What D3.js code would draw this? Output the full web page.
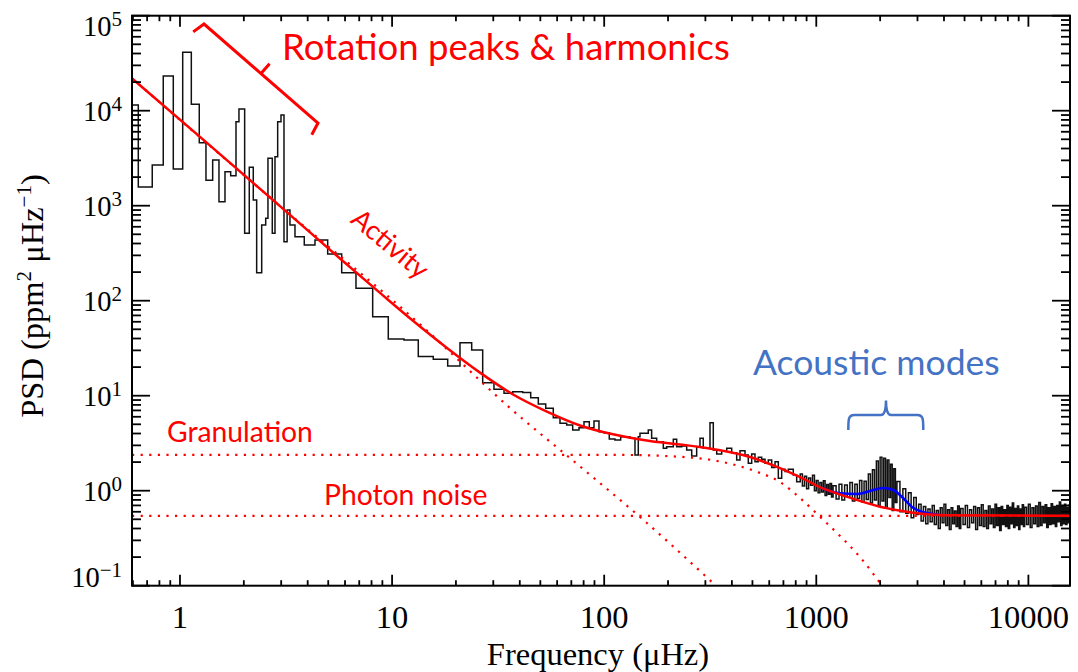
<!DOCTYPE html>
<html><head><meta charset="utf-8">
<script src="https://cdn.jsdelivr.net/npm/d3@7"></script>
<style>html,body{margin:0;padding:0;background:#fff}</style>
</head><body>
<svg id="c" width="1078" height="672"></svg>
<script>
// ---------- DATA ----------
// Rebinned power spectrum: left edge of each bin (µHz) and PSD (ppm²/µHz)
const binFreq = [0.594,0.636,0.740,0.834,0.930,1.030,1.131,1.233,1.326,1.426,1.527,1.630,1.734,1.837,1.897,2.018,2.122,2.216,2.299,2.428,2.536,2.599,2.724,2.805,2.888,2.994,3.093,3.20,3.30,3.485,3.855,4.33,4.97,5.787,6.758,8.10,9.596,11.38,13.29,15.64,18.29,20.90,23.73,26.74,30.22,33.71,37.03,41.28,45.03,48.91,53.01,57.54,61.89,66.56,71.03,76.06,80.31,85.08,89.51,94.51,99.8,105.7,112.4,119.6,132.3,139.7,144.8,147.5,161.4,167.4,176.8,190.0,197.1,211.8,219.7,232.0,244.9,258.6,272.9,282.9,293.2,315.4,326.9,339.2,358.1,378.1,399.1,421.4,436.8,461.2,478.0,496.0,514.0,532.9,552.9,573.1,593.9,616.2,638.9,662.2,686.8,712.0,738.0,779.0,808.3,
840,860,880,900,920,940,960,980,1000,1020,1040,1060,1080,1100,1120,1140,1160,1180,1200,1240,1280,1320,1360,1400,1440,1480,1520,1560,1600,1640,1680,1720,1760,1800,1840,1880,1920,1960,2000,2040,2080,2120,2160,2200,2240,2280,2320,2360,2400,2480,2560,2640,2720,2800,2880,2960,3040,3120,3200,3280,3360,3440,3520,3600,3680,3760,3840,3920,4000,4080,4160,4240,4320,4400,4480,4560,4640,4720,
4800,4920,5040,5160,5280,5400,5520,5640,5760,5880,6000,6120,6240,6360,6480,6600,6720,6840,6960,7080,7200,7320,7440,7560,7680,7800,7920,8040,8160,8280,8400,8520,8640,8760,8880,9000,9120,9240,9360,9480,
9600,9800,10000,10200,10400,10600,10800,11000,11200,11400,11600,11800,12000,12200,12400,12600,12800,13000,13200,13400,13600,13800,14000,14200,14400,14600,14800,15000,15200,15400,15600];
const binPsd = [11480,1574,2680,23200,2432,41200,11670,4603,1850,3027,1102,2280,2070,7660,10420,512,2536,1148,197,626,737,3155,512,3280,7660,9010,418,901,626,472,386,436,310,197,135,67.9,39.5,38.6,25.9,24.2,20.5,36.1,30.3,13.7,11.7,10.6,11.0,10.8,9.52,8.18,7.37,5.87,5.12,4.92,4.35,4.60,5.33,4.60,5.42,4.18,4.08,3.50,3.42,3.70,3.56,2.38,3.70,4.02,4.35,3.56,3.28,2.80,2.90,3.48,2.90,2.96,2.68,2.32,2.90,3.56,2.80,5.20,2.68,2.43,2.64,2.80,2.51,2.10,2.64,2.38,1.94,2.43,2.02,2.25,2.14,1.94,2.10,1.76,2.02,1.35,1.68,1.59,1.68,1.46,1.24,
1.50,1.12,1.42,1.05,1.36,1.14,1.45,1.00,1.28,0.95,1.22,0.97,1.27,0.89,1.16,0.92,1.19,0.86,1.13,0.82,1.17,0.80,1.15,0.86,1.22,0.78,1.17,0.83,1.28,0.76,1.26,0.81,1.50,0.74,1.66,0.80,2.05,0.70,2.25,0.78,2.20,0.66,2.10,0.85,1.90,0.62,1.70,0.75,1.25,0.60,1.05,0.58,0.95,0.52,0.85,0.56,0.72,0.48,0.68,0.45,0.64,0.47,0.70,0.44,0.62,0.40,0.66,0.46,0.72,0.43,0.63,0.39,0.66,0.45,0.61,0.42,0.69,0.40,
0.65,0.44,0.70,0.41,0.63,0.46,0.68,0.39,0.66,0.43,0.71,0.42,0.62,0.40,0.69,0.45,0.64,0.41,0.72,0.43,0.66,0.38,0.68,0.44,0.63,0.42,0.70,0.40,0.67,0.45,0.74,0.41,0.65,0.43,0.69,0.39,0.64,0.44,0.71,0.42,
0.67,0.44,0.72,0.41,0.66,0.45,0.69,0.42,0.75,0.43,0.68,0.46,0.71,0.41,0.66,0.44,0.73,0.45,0.68,0.42,0.70,0.47,0.76,0.43,0.69,0.45,0.72,0.44,0.67,0.46,0.71];

// Total background fit (red solid)
const fitFreq = [0.594,1.243,2.961,5.68,8.77,12.55,18.15,25.97,37.2,53.7,76.9,110,164.4,283,487,674,838,1041,1390,1996,2857,4120,15710];
const fitPsd  = [21900,5300,990,278,121,61.5,31.8,17.5,10.3,6.8,4.86,3.92,3.33,2.88,2.26,1.73,1.39,1.09,0.865,0.679,0.587,0.552,0.545];

// Activity component (red dotted)
const activityFreq = [0.594,2.961,13.99,35.97,78.6,147.5,326.9];
const activityPsd  = [21900,993,52.9,7.42,1.73,0.529,0.106];

// Granulation component (red dotted)
const granFreq = [0.594,118.7,244.9,352,504.5,674,838,1041,1294,1607,2041];
const granPsd  = [2.38,2.38,2.25,2.03,1.63,1.235,0.838,0.532,0.334,0.200,0.1];

// Photon noise (red dotted)
const noiseFreq = [0.594,15710];
const noisePsd  = [0.542,0.542];

// Fit including the acoustic-mode hump (blue)
const modesFreq = [1041,1160,1294,1550,1857,2070,2307,2572,2817,3140,3435,3830];
const modesPsd  = [1.09,0.993,0.939,0.923,1.017,1.067,1.017,0.832,0.679,0.601,0.575,0.555];

// Axis ticks
const xMajor = [1,10,100,1000,10000];
const xLabels = ["1","10","100","1000","10000"];
const yExponents = [-1,0,1,2,3,4,5];

// ---------- CHART ----------
const W = 1078, H = 672;
const P = {l:132, r:1070, t:15.7, b:585.7};
const x = d3.scaleLog().domain([0.594,15710]).range([P.l,P.r]);
const y = d3.scaleLog().domain([0.1,1e5]).range([P.b,P.t]);

const svg = d3.select('#c');
svg.append('rect').attr('width',W).attr('height',H).attr('fill','#fff');
svg.append('defs').append('clipPath').attr('id','clip')
  .append('rect').attr('x',P.l).attr('y',P.t).attr('width',P.r-P.l).attr('height',P.b-P.t);
const g = svg.append('g').attr('clip-path','url(#clip)');

const zip = (fs,vs) => fs.map((f,i)=>[f,vs[i]]);
const stepLine = d3.line().x(d=>x(d[0])).y(d=>y(d[1])).curve(d3.curveStepAfter);
const smooth = d3.line().x(d=>x(d[0])).y(d=>y(d[1])).curve(d3.curveMonotoneX);
const straight = d3.line().x(d=>x(d[0])).y(d=>y(d[1]));

const hist = zip(binFreq,binPsd);
hist.push([x.domain()[1], binPsd[binPsd.length-1]]);
g.append('path').datum(hist).attr('d',stepLine)
  .attr('fill','none').attr('stroke','#111').attr('stroke-width',1.5);

const dotted = sel => sel.attr('fill','none').attr('stroke','#ff0000')
  .attr('stroke-width',2.2).attr('stroke-dasharray','2.2 6.4');
g.append('path').datum(zip(noiseFreq,noisePsd)).attr('d',straight).call(dotted);
g.append('path').datum(zip(granFreq,granPsd)).attr('d',smooth).call(dotted);
g.append('path').datum(zip(activityFreq,activityPsd)).attr('d',smooth).call(dotted);

g.append('path').datum(zip(modesFreq,modesPsd)).attr('d',smooth)
  .attr('fill','none').attr('stroke','#0000ff').attr('stroke-width',2.5);
g.append('path').datum(zip(fitFreq,fitPsd)).attr('d',smooth)
  .attr('fill','none').attr('stroke','#ff0000').attr('stroke-width',2.5);

// ---------- AXES ----------
const ax = svg.append('g');
const xt = x.ticks().filter(t=>t>=x.domain()[0] && t<=x.domain()[1]);
const yt = y.ticks();
const isMajor = t => Math.abs(Math.log10(t) - Math.round(Math.log10(t))) < 1e-6;
xt.forEach(t=>{
  const L = isMajor(t) ? 11 : 5.5, px = x(t);
  ax.append('line').attr('x1',px).attr('x2',px).attr('y1',P.b).attr('y2',P.b-L);
  ax.append('line').attr('x1',px).attr('x2',px).attr('y1',P.t).attr('y2',P.t+L);
});
yt.forEach(t=>{
  const L = isMajor(t) ? 18 : 9, py = y(t);
  ax.append('line').attr('x1',P.l).attr('x2',P.l+L).attr('y1',py).attr('y2',py);
  ax.append('line').attr('x1',P.r).attr('x2',P.r-L).attr('y1',py).attr('y2',py);
});
ax.selectAll('line').attr('stroke','#000').attr('stroke-width',1.8);
ax.append('rect').attr('x',P.l).attr('y',P.t).attr('width',P.r-P.l).attr('height',P.b-P.t)
  .attr('fill','none').attr('stroke','#000').attr('stroke-width',2);

const serif = "'Liberation Serif','Times New Roman',Times,serif";
xMajor.forEach((t,i)=>{
  svg.append('text').attr('x',x(t)).attr('y',628).attr('text-anchor','middle')
    .attr('font-family',serif).attr('font-size',32.5).attr('fill','#000').text(xLabels[i]);
});
yExponents.forEach(e=>{
  const cy = Math.min(Math.max(y(Math.pow(10,e)), P.t+10), P.b-9);
  const tx = svg.append('text').attr('x',122).attr('y',cy+10).attr('text-anchor','end')
    .attr('font-family',serif).attr('font-size',28.5).attr('fill','#000');
  tx.append('tspan').text('10');
  tx.append('tspan').attr('dy',-10).attr('font-size',21).text(e<0 ? '\u2212'+Math.abs(e) : String(e));
});

svg.append('text').attr('x',598).attr('y',665).attr('text-anchor','middle')
  .attr('font-family',serif).attr('font-size',32.5).attr('fill','#000')
  .text('Frequency (\u03bcHz)');
const yt2 = svg.append('text').attr('transform','translate(43,296) rotate(-90)')
  .attr('text-anchor','middle').attr('font-family',serif).attr('font-size',32.5).attr('fill','#000');
yt2.append('tspan').text('PSD (ppm');
yt2.append('tspan').attr('dy',-12).attr('font-size',21).text('2');
yt2.append('tspan').attr('dy',12).text(' \u03bcHz');
yt2.append('tspan').attr('dy',-12).attr('font-size',21).text('\u22121');
yt2.append('tspan').attr('dy',12).text(')');

// ---------- ANNOTATIONS ----------
const sans = "Lato,'Open Sans','Noto Sans',sans-serif";
const red = '#ff0000', blueTxt = '#4472c4';

// Rotation peaks bracket (ends anchored in data space)
const rotA = [x(1.298), y(81760)], rotB = [x(4.474), y(7421)];
const dx = rotB[0]-rotA[0], dy = rotB[1]-rotA[1], len = Math.hypot(dx,dy);
const u = [dx/len, dy/len], down = [-u[1], u[0]], up = [u[1], -u[0]];
const hookA = [rotA[0]+down[0]*13-u[0]*3, rotA[1]+down[1]*13-u[1]*3];
const hookB = [rotB[0]+down[0]*13+u[0]*3, rotB[1]+down[1]*13+u[1]*3];
const mid = [(rotA[0]+rotB[0])/2, (rotA[1]+rotB[1])/2];
svg.append('path')
  .attr('d',`M${hookA}L${rotA}L${rotB}L${hookB}M${mid}L${mid[0]+up[0]*13},${mid[1]+up[1]*13}`)
  .attr('fill','none').attr('stroke',red).attr('stroke-width',3).attr('stroke-linejoin','miter');

svg.append('text').attr('x',x(3.027)).attr('y',y(34190)).attr('font-family',sans)
  .attr('font-size',36.5).attr('fill',red).text('Rotation peaks & harmonics');

svg.append('text').attr('transform',`translate(${x(9.88)},${y(405)}) rotate(40)`)
  .attr('text-anchor','middle').attr('dominant-baseline','central')
  .attr('font-family',sans).attr('font-size',27).attr('fill',red).text('Activity');

svg.append('text').attr('x',x(0.868)).attr('y',y(3.25)).attr('font-family',sans)
  .attr('font-size',28.3).attr('fill',red).text('Granulation');
svg.append('text').attr('x',x(4.776)).attr('y',y(0.707)).attr('font-family',sans)
  .attr('font-size',28.3).attr('fill',red).text('Photon noise');

// Acoustic modes brace
const bl = x(1416), br = x(3195), bc = x(2131), bt = y(6.26), bb = y(4.35), bn = y(8.9);
svg.append('path')
  .attr('d',`M${bl},${bb} C${bl},${bt+4} ${bl},${bt} ${bl+6},${bt} L${bc-5},${bt} Q${bc},${bt} ${bc},${bn}`+
            ` Q${bc},${bt} ${bc+5},${bt} L${br-6},${bt} C${br},${bt} ${br},${bt+4} ${br},${bb}`)
  .attr('fill','none').attr('stroke',blueTxt).attr('stroke-width',2.5);
svg.append('text').attr('x',x(503)).attr('y',y(16.5)).attr('font-family',sans)
  .attr('font-size',35.5).attr('fill',blueTxt).text('Acoustic modes');
</script>
</body></html>
